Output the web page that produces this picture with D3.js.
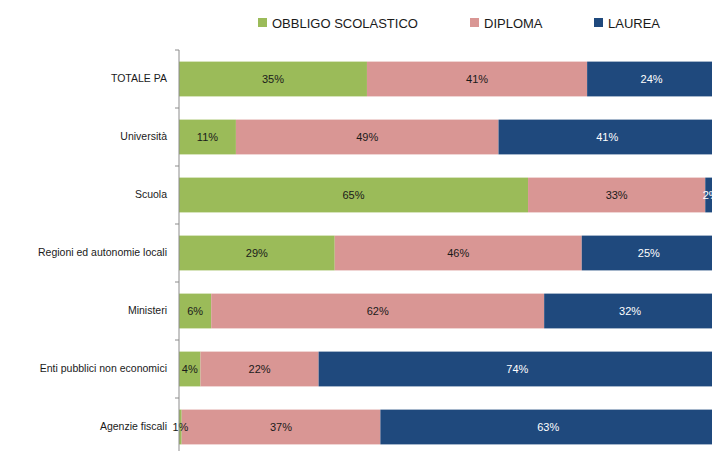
<!DOCTYPE html>
<html><head><meta charset="utf-8">
<script src="https://cdn.jsdelivr.net/npm/d3@7"></script>
<style>body{margin:0;background:#fff}svg{display:block}</style>
</head><body>
<svg id="chart" width="712" height="451"></svg>
<script>
const categories = ["TOTALE PA","Università","Scuola","Regioni ed autonomie locali","Ministeri","Enti pubblici non economici","Agenzie fiscali"];
const seriesNames = ["OBBLIGO SCOLASTICO","DIPLOMA","LAUREA"];
const obbligo = [35, 10.6, 65, 29, 6, 4, 0.5];
const diploma = [41, 48.9, 33, 46, 62, 22, 37];
const laurea  = [24, 40.5, 2, 25, 32, 74, 62.5];
const colors = ["#9BBB59","#D99694","#1F497D"];
const labelColors = ["#1a1a1a","#1a1a1a","#ffffff"];

const svg = d3.select("#chart");
const font = "Liberation Sans, Arial, sans-serif";

const rows = categories.map((c,i)=>({cat:c, v:[obbligo[i],diploma[i],laurea[i]]}));
const x = d3.scaleLinear().domain([0,100]).range([179,716]);
const y = d3.scaleBand().domain(categories).range([50,456]).paddingInner(0.4).paddingOuter(0.2);

// bars
rows.forEach(r=>{
  let acc=0;
  r.v.forEach((v,k)=>{
    const x0=x(acc), x1=x(acc+v);
    svg.append("rect").attr("x",x0).attr("y",y(r.cat)).attr("width",x1-x0).attr("height",y.bandwidth())
      .attr("fill",colors[k]);
    acc+=v;
  });
});
// labels
rows.forEach(r=>{
  let acc=0;
  r.v.forEach((v,k)=>{
    const cx = x(acc+v/2);
    svg.append("text").attr("x",cx).attr("y",y(r.cat)+y.bandwidth()/2).attr("dy","0.35em")
      .attr("text-anchor","middle").attr("font-family",font).attr("font-size",11)
      .attr("fill",labelColors[k]).text(Math.round(v)+"%");
    acc+=v;
  });
});

// axis
const axis = d3.axisLeft(y).tickSize(0).tickPadding(12);
const g = svg.append("g").attr("transform","translate(179,0)").call(axis);
g.select(".domain").attr("stroke","#8c8c8c").attr("d","M0,50V456");
g.selectAll("text").attr("font-family",font).attr("font-size",10.5).attr("fill","#1a1a1a");
// boundary ticks
const step = y.step();
const bounds = d3.range(categories.length+1).map(i=>50+i*(456-50)/categories.length);
g.selectAll(".bt").data(bounds).enter().append("line").attr("class","bt")
  .attr("x1",-4).attr("x2",0).attr("y1",d=>d).attr("y2",d=>d).attr("stroke","#8c8c8c");

// legend
const legX = [258, 470, 594];
const lg = svg.append("g");
seriesNames.forEach((s,k)=>{
  lg.append("rect").attr("x",legX[k]).attr("y",18).attr("width",9).attr("height",9).attr("fill",colors[k]);
  lg.append("text").attr("x",legX[k]+14).attr("y",23).attr("dy","0.35em").attr("font-family",font)
    .attr("font-size",13).attr("fill","#1a1a1a").text(s);
});
</script>
</body></html>
